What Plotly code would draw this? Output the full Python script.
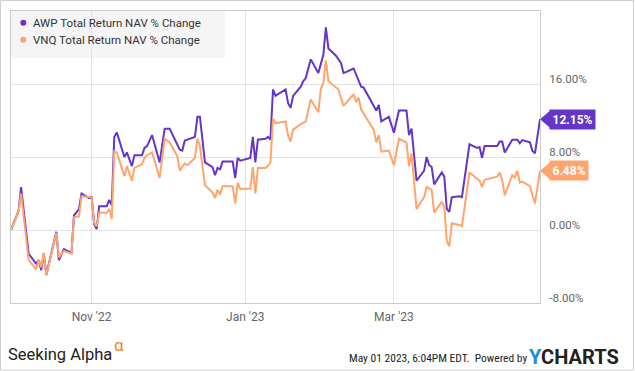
import plotly.graph_objects as go

awp_name = "AWP Total Return NAV % Change"
vnq_name = "VNQ Total Return NAV % Change"

awp_dates = ["2022-09-30","2022-10-03","2022-10-04","2022-10-07","2022-10-10","2022-10-11","2022-10-12","2022-10-13","2022-10-14","2022-10-18",
             "2022-10-19","2022-10-21","2022-10-24","2022-10-25","2022-10-27","2022-10-28","2022-10-31","2022-11-01","2022-11-02","2022-11-03",
             "2022-11-04","2022-11-07","2022-11-08","2022-11-09","2022-11-10","2022-11-11","2022-11-14","2022-11-15","2022-11-17","2022-11-18",
             "2022-11-21","2022-11-22","2022-11-23","2022-11-25","2022-11-28","2022-11-30","2022-12-02","2022-12-06","2022-12-07","2022-12-08",
             "2022-12-09","2022-12-12","2022-12-13","2022-12-14","2022-12-16","2022-12-19","2022-12-20","2022-12-21","2022-12-22","2022-12-23",
             "2022-12-27","2022-12-28","2022-12-29","2022-12-30","2023-01-03","2023-01-04","2023-01-05","2023-01-06","2023-01-09","2023-01-10",
             "2023-01-11","2023-01-12","2023-01-13","2023-01-17","2023-01-18","2023-01-19","2023-01-20","2023-01-23","2023-01-24","2023-01-25",
             "2023-01-27","2023-01-30","2023-02-01","2023-02-02","2023-02-03","2023-02-06","2023-02-08","2023-02-09","2023-02-10","2023-02-13",
             "2023-02-16","2023-02-17","2023-02-22","2023-02-23","2023-02-24","2023-02-27","2023-03-01","2023-03-03","2023-03-06","2023-03-07",
             "2023-03-08","2023-03-10","2023-03-13","2023-03-14","2023-03-15","2023-03-16","2023-03-17","2023-03-20","2023-03-21","2023-03-22",
             "2023-03-23","2023-03-24","2023-03-27","2023-03-28","2023-03-31","2023-04-03","2023-04-04","2023-04-05","2023-04-06","2023-04-11",
             "2023-04-12","2023-04-13","2023-04-14","2023-04-17","2023-04-19","2023-04-20","2023-04-21","2023-04-24","2023-04-25","2023-04-26",
             "2023-04-28"]
awp_values = [0.0, 2.1, 4.7, -2.6, -3.7, -3.3, -4.4, -2.6, -4.9, -0.2,
              -3.3, -2.1, -2.5, 1.6, 2.3, 4.0, 3.5, 3.7, 0.65, 0.1,
              2.6, 2.6, 3.3, 2.7, 10.2, 10.7, 8.0, 8.5, 7.0, 8.2,
              8.2, 9.0, 9.2, 10.4, 7.4, 11.1, 11.1, 8.8, 8.7, 9.8,
              9.9, 10.2, 12.4, 12.4, 7.4, 6.9, 6.0, 6.8, 6.65, 7.5,
              7.5, 5.7, 7.9, 7.6, 7.9, 10.2, 7.4, 9.9, 10.0, 10.2,
              9.9, 15.4, 14.7, 15.4, 13.9, 13.4, 14.7, 15.7, 16.3, 16.65,
              18.7, 17.2, 19.2, 22.2, 19.9, 19.1, 18.3, 17.2, 17.3, 17.7,
              15.7, 15.6, 13.1, 13.7, 11.9, 12.4, 10.65, 13.1, 13.1, 10.4,
              11.1, 5.4, 6.5, 8.0, 7.1, 6.9, 5.0, 6.3, 5.85, 2.3,
              2.0, 3.6, 3.7, 3.6, 9.4, 9.0, 9.1, 7.9, 9.2, 9.2,
              9.7, 9.7, 8.5, 9.9, 9.9, 9.5, 9.85, 9.6, 8.65, 8.4,
              12.15]

vnq_dates = ["2022-09-30","2022-10-03","2022-10-04","2022-10-07","2022-10-10","2022-10-11","2022-10-12","2022-10-13","2022-10-14","2022-10-18",
             "2022-10-19","2022-10-21","2022-10-24","2022-10-25","2022-10-27","2022-10-28","2022-11-01","2022-11-02","2022-11-03","2022-11-04",
             "2022-11-07","2022-11-08","2022-11-09","2022-11-10","2022-11-11","2022-11-14","2022-11-15","2022-11-17","2022-11-18","2022-11-21",
             "2022-11-22","2022-11-23","2022-11-25","2022-11-28","2022-11-30","2022-12-02","2022-12-05","2022-12-06","2022-12-08","2022-12-09",
             "2022-12-12","2022-12-13","2022-12-14","2022-12-16","2022-12-19","2022-12-20","2022-12-21","2022-12-22","2022-12-23","2022-12-27",
             "2022-12-28","2022-12-29","2022-12-30","2023-01-03","2023-01-04","2023-01-05","2023-01-06","2023-01-09","2023-01-10","2023-01-11",
             "2023-01-12","2023-01-13","2023-01-17","2023-01-18","2023-01-19","2023-01-20","2023-01-23","2023-01-25","2023-01-27","2023-01-30",
             "2023-01-31","2023-02-01","2023-02-02","2023-02-03","2023-02-07","2023-02-09","2023-02-13","2023-02-14","2023-02-15","2023-02-16",
             "2023-02-21","2023-02-22","2023-02-23","2023-02-24","2023-02-27","2023-03-01","2023-03-03","2023-03-06","2023-03-07","2023-03-08",
             "2023-03-10","2023-03-13","2023-03-14","2023-03-16","2023-03-17","2023-03-20","2023-03-21","2023-03-22","2023-03-23","2023-03-24",
             "2023-03-27","2023-03-28","2023-03-31","2023-04-04","2023-04-05","2023-04-06","2023-04-11","2023-04-12","2023-04-13","2023-04-14",
             "2023-04-17","2023-04-18","2023-04-19","2023-04-20","2023-04-21","2023-04-24","2023-04-26","2023-04-28"]
vnq_values = [0.0, 2.0, 4.0, -3.3, -4.3, -3.3, -4.1, -2.5, -5.0, -0.3,
              -3.0, -2.3, -2.6, 1.4, 1.5, 3.7, 3.6, 0.8, 0.4, 1.9,
              1.9, 2.3, 1.2, 8.6, 8.5, 5.9, 7.0, 5.4, 6.8, 7.2,
              7.9, 8.2, 8.5, 5.7, 10.0, 9.6, 8.1, 6.5, 7.3, 7.1,
              7.9, 10.0, 9.2, 4.9, 4.1, 3.5, 4.4, 3.9, 4.8, 4.8,
              2.9, 5.2, 4.5, 4.55, 6.9, 4.0, 6.8, 6.8, 7.0, 7.4,
              12.2, 11.7, 11.9, 10.3, 9.7, 11.0, 11.6, 11.9, 14.3, 12.9,
              15.5, 16.1, 18.6, 16.3, 15.4, 13.6, 14.9, 14.0, 14.5, 13.2,
              11.0, 9.6, 10.4, 8.6, 8.7, 7.1, 10.0, 9.6, 7.0, 8.4,
              2.3, 3.6, 4.7, 4.4, 1.9, 3.1, 2.5, -1.2, -1.8, 0.75,
              0.55, 0.4, 6.3, 5.4, 4.7, 5.5, 5.85, 6.3, 5.5, 3.8,
              6.0, 5.75, 6.5, 5.2, 5.3, 4.8, 2.9, 6.48]

x_tickvals = ["2022-11-01", "2023-01-01", "2023-03-01"]
x_ticktext = ["Nov '22", "Jan '23", "Mar '23"]
y_tickvals = [-8, 0, 8, 16]
y_ticktext = ["-8.00%", "0.00%", "8.00%", "16.00%"]

PURPLE = "#6535c8"
ORANGE = "#ffa46c"
FONT = "Roboto, Arial, sans-serif"

fig = go.Figure()
fig.add_trace(go.Scatter(x=awp_dates, y=awp_values, mode="lines", name=awp_name,
                         line=dict(color=PURPLE, width=2), showlegend=False))
fig.add_trace(go.Scatter(x=vnq_dates, y=vnq_values, mode="lines", name=vnq_name,
                         line=dict(color=ORANGE, width=2), showlegend=False))

W, H = 635, 371
ml, mr, mt, mb = 11, 95, 11, 68
pw, ph = W - ml - mr, H - mt - mb

def px(x):
    return (x - ml) / pw

def py(y):
    return (H - mb - y) / ph

shapes = []
annotations = []

# legend box
shapes.append(dict(type="rect", xref="paper", yref="paper", x0=0, x1=px(225), y0=py(58), y1=1,
                   fillcolor="#f5f5f5", line=dict(width=0), layer="below"))
for i, (name, col) in enumerate([(awp_name, PURPLE), (vnq_name, ORANGE)]):
    cy = 22.7 + i * 17
    shapes.append(dict(type="circle", xref="paper", yref="paper", xsizemode="pixel", ysizemode="pixel",
                       xanchor=0, yanchor=1, x0=9.3, x1=15.3, y0=-(cy - 11) - 3, y1=-(cy - 11) + 3,
                       fillcolor=col, line=dict(width=0)))
    annotations.append(dict(text=name, xref="paper", yref="paper", x=px(31), y=py(cy),
                            xanchor="left", yanchor="middle", showarrow=False,
                            font=dict(family=FONT, size=11.5, color="#333333")))

# end-value badges
for vals, col in [(awp_values, PURPLE), (vnq_values, ORANGE)]:
    last = vals[-1]
    shapes.append(dict(type="path", xref="paper", yref="y", xsizemode="pixel", ysizemode="pixel",
                       xanchor=1, yanchor=last, path="M0,0 L10,8.5 L10,-8.5 Z",
                       fillcolor=col, line=dict(width=0), layer="above"))
    annotations.append(dict(text=f"<b>{last:.2f}%</b>", xref="paper", yref="y", x=1, y=last,
                            xanchor="left", yanchor="middle", xshift=9, showarrow=False,
                            bgcolor=col, borderpad=2.5,
                            font=dict(family=FONT, size=12, color="white")))

# outer frame
shapes.append(dict(type="rect", xref="paper", yref="paper", x0=px(0.5), x1=px(633.5), y0=py(370), y1=py(0.5),
                   line=dict(color="#d0d0d0", width=1), fillcolor="rgba(0,0,0,0)", layer="below"))

# footer
annotations.append(dict(text="Seeking Alpha", xref="paper", yref="paper", x=px(6), y=py(354),
                        xanchor="left", yanchor="middle", showarrow=False,
                        font=dict(family=FONT, size=16.5, color="#222222")))
annotations.append(dict(text="α", xref="paper", yref="paper", x=px(112), y=py(345),
                        xanchor="left", yanchor="middle", showarrow=False,
                        font=dict(family=FONT, size=17, color="#f58220")))
annotations.append(dict(text="May 01 2023, 6:04PM EDT.  Powered by", xref="paper", yref="paper",
                        x=px(529), y=py(358), xanchor="right", yanchor="middle", showarrow=False,
                        font=dict(family="Liberation Sans Narrow, Roboto Condensed, Roboto", size=11.5, color="#222222")))
annotations.append(dict(text="<b><span style='color:#1a8fd6'>Y</span>CHARTS</b>", xref="paper", yref="paper",
                        x=px(527), y=py(357), xanchor="left", yanchor="middle", showarrow=False,
                        font=dict(family=FONT, size=20, color="#222222")))

fig.update_layout(
    width=W, height=H,
    margin=dict(l=ml, r=mr, t=mt, b=mb),
    paper_bgcolor="white", plot_bgcolor="white",
    showlegend=False,
    shapes=shapes, annotations=annotations,
    font=dict(family=FONT, color="#666666"),
    xaxis=dict(range=["2022-09-30", "2023-04-28"], tickvals=x_tickvals, ticktext=x_ticktext,
               showgrid=True, gridcolor="#e3e3e3", gridwidth=1, showline=True, mirror=True,
               linecolor="#cccccc", linewidth=1, ticks="", zeroline=False,
               ticklabelstandoff=3,
               tickfont=dict(family=FONT, size=12, color="#666666")),
    yaxis=dict(range=[-8, 24], side="right", tickvals=y_tickvals, ticktext=y_ticktext,
               showgrid=True, gridcolor="#e3e3e3", gridwidth=1, showline=True, mirror=True,
               linecolor="#cccccc", linewidth=1, ticks="", zeroline=False,
               ticklabelshift=-5, ticklabelstandoff=6,
               tickfont=dict(family=FONT, size=11.5, color="#666666")),
)

fig.write_html("out.html", config={"displayModeBar": False},
               post_script="document.body.style.margin='0px';")
